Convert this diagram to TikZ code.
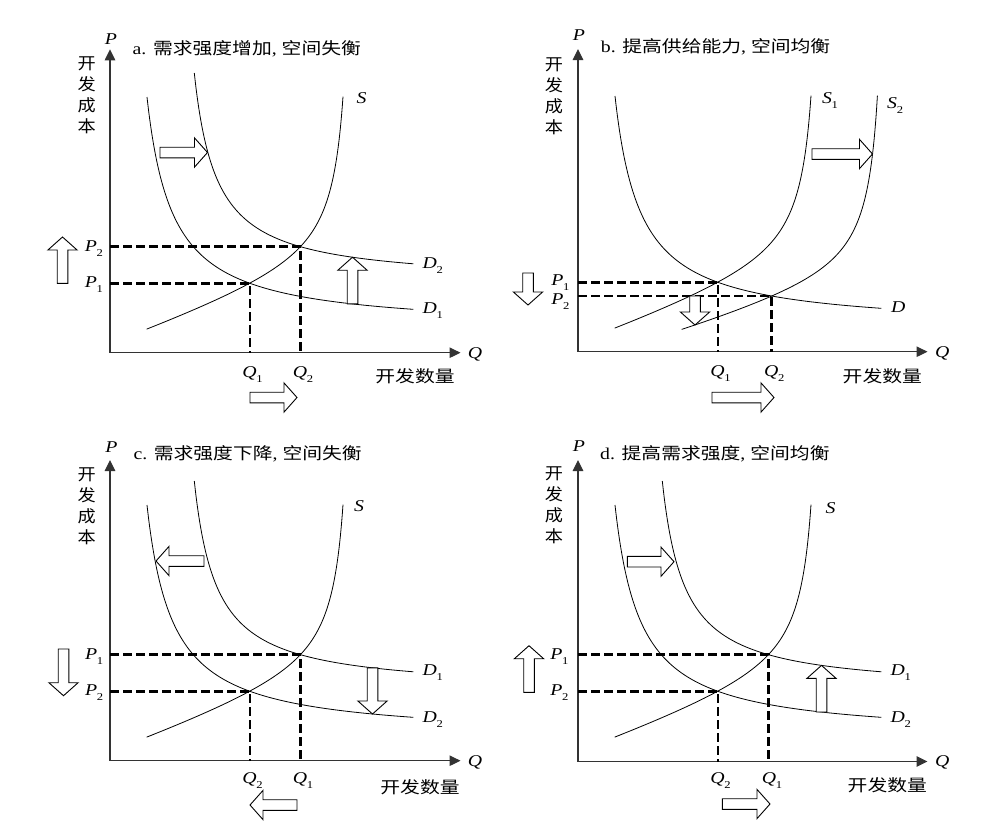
\documentclass[tikz,border=0pt]{standalone}
\usepackage{fontspec}
\usepackage{graphicx}
\setmainfont{Liberation Serif}
\newfontfamily\cjk{Noto Sans CJK SC}
\usetikzlibrary{arrows.meta,calc}
\newcommand\sx[1]{\scalebox{1.2}[1]{#1}}
\newcommand\sxx[1]{\scalebox{1.1}[1]{#1}}
\newcommand\vlab[1]{\sx{\textit{#1}}}
\newcommand\vsub[2]{\sx{\textit{#1}\kern-0.3pt\raisebox{-5pt}{\fontsize{10.5}{11}\selectfont #2}}}
\newcommand\blockarrow[2]{%
  \coordinate (bs) at #1;
  \coordinate (be) at #2;
  \coordinate (bb) at ($(be)!13pt!(bs)$);
  \draw[hollow] ($(bs)!5.3pt!90:(be)$) -- ($(bb)!5.3pt!90:(be)$) -- ($(bb)!14.6pt!90:(be)$) -- (be)
     -- ($(bb)!14.6pt!-90:(be)$) -- ($(bb)!5.3pt!-90:(be)$) -- ($(bs)!5.3pt!-90:(be)$) -- cycle;}
\def\Sone{390.55-0.348*\x-2165/(355.4-\x)}
\def\Stwo{401.3-0.284*\x-2110/(420.6-\x)}
\def\Dlo{329.8-5982.6/(\x-121.3)}
\def\Dhi{283.25-4699/(\x-171.95)}
\begin{document}
\begin{tikzpicture}[x=1pt,y=-1pt,
  axis/.style={line width=1.1pt,draw=black!80,>={Triangle[length=11pt,width=10.5pt]},<->},
  curve/.style={line width=0.8pt},
  guide/.style={line width=2.5pt,dash pattern=on 8.5pt off 4.5pt},
  hollow/.style={line width=0.9pt,fill=white,line join=miter},
  lab/.style={inner sep=0pt,font=\fontsize{16.5}{18}\selectfont},
  cjklab/.style={inner sep=0pt,font=\cjk\fontsize{16.5}{18}\selectfont},
  stack/.style={inner sep=0pt,align=center,font=\cjk\fontsize{16.5}{21}\selectfont}]
\useasboundingbox (0,0) rectangle (988,828);

% ---------- panel a ----------
\begin{scope}
\coordinate (aO) at (110,352.7);
\coordinate (aY) at (110,49.3);
\coordinate (aX) at (460.5,352.7);
\draw[axis] (aY) -- (aO) -- (aX);
\node[lab,anchor=base] (aP) at (111,44) {\vlab{P}};
\node[lab,anchor=base] (aQ) at (475,358.5) {\vlab{Q}};
\node[lab,anchor=west] (aT) at (132.5,49) {\sx{a. {\cjk 需求强度增加}, {\cjk 空间失衡}}};
\node[stack] (aV) at (86.7,95.5) {\sxx{开}\\\sxx{发}\\\sxx{成}\\\sxx{本}};
\node[cjklab] (aN) at (415,376.7) {\sx{开发数量}};
\draw[curve] plot[domain=146.7:343,samples=300] (\x,{\Sone});
\draw[curve] plot[domain=147:413.3,samples=300] (\x,{\Dlo});
\draw[curve] plot[domain=194.3:413.3,samples=300] (\x,{\Dhi});
\coordinate (aE1) at (250,283.3);
\coordinate (aE2) at (300.5,246.7);
\draw[guide] (aO |- aE1) -- (aE1) -- (aE1 |- aO);
\draw[guide] (aO |- aE2) -- (aE2) -- (aE2 |- aO);
\node[lab,anchor=base east] (aP1) at (103,287.6) {\vsub{P}{1}};
\node[lab,anchor=base east] (aP2) at (103,251) {\vsub{P}{2}};
\node[lab,anchor=base] (aQ1) at (252.5,377.5) {\vsub{Q}{1}};
\node[lab,anchor=base] (aQ2) at (303,377.5) {\vsub{Q}{2}};
\node[lab,anchor=base west] (aS) at (356.5,103.3) {\vlab{S}};
\node[lab,anchor=base west] (aD2) at (422.5,268.3) {\vsub{D}{2}};
\node[lab,anchor=base west] (aD1) at (422.5,313.3) {\vsub{D}{1}};
\blockarrow{(160,152.5)}{(207.5,152.5)}
\blockarrow{(62.5,283.3)}{(62.5,237)}
\blockarrow{(352.5,303.9)}{(352.5,257.2)}
\blockarrow{(250,397.5)}{(297,397.5)}
\end{scope}

% ---------- panel b ----------
\begin{scope}[shift={(468,-1)}]
\coordinate (bO) at (110,352.7);
\coordinate (bY) at (110,50);
\coordinate (bX) at (459.5,352.7);
\draw[axis] (bY) -- (bO) -- (bX);
\node[lab,anchor=base] (bP) at (111,41.5) {\vlab{P}};
\node[lab,anchor=base] (bQ) at (474.3,358) {\vlab{Q}};
\node[lab,anchor=west] (bT) at (132.7,47.7) {\sx{b. {\cjk 提高供给能力}, {\cjk 空间均衡}}};
\node[stack] (bV) at (86,97) {\sxx{开}\\\sxx{发}\\\sxx{成}\\\sxx{本}};
\node[cjklab] (bN) at (414.3,377.7) {\sx{开发数量}};
\draw[curve] plot[domain=146.7:343,samples=300] (\x,{\Sone});
\draw[curve] plot[domain=213.7:409.4,samples=300] (\x,{\Stwo});
\draw[curve] plot[domain=147:413.3,samples=300] (\x,{\Dlo});
\coordinate (bE1) at (250,283.3);
\coordinate (bE2) at (303.7,297);
\draw[guide] (bO |- bE1) -- (bE1) -- (bE1 |- bO);
\draw[guide] (bO |- bE2) -- (bE2) -- (bE2 |- bO);
\node[lab,anchor=base east] (bP1) at (101.5,286.5) {\vsub{P}{1}};
\node[lab,anchor=base east] (bP2) at (101.5,305.5) {\vsub{P}{2}};
\node[lab,anchor=base] (bQ1) at (252.5,377) {\vsub{Q}{1}};
\node[lab,anchor=base] (bQ2) at (306.2,377) {\vsub{Q}{2}};
\node[lab,anchor=base west] (bS1) at (354,104.3) {\vsub{S}{1}};
\node[lab,anchor=base west] (bS2) at (419,109.3) {\vsub{S}{2}};
\node[lab,anchor=base west] (bD) at (423,313) {\vlab{D}};
\blockarrow{(344,155)}{(404.5,155)}
\blockarrow{(60,274)}{(60,306)}
\blockarrow{(227,297)}{(227,326)}
\blockarrow{(244,398.5)}{(306,398.5)}
\end{scope}

% ---------- panel c ----------
\begin{scope}[shift={(0,408)}]
\coordinate (cO) at (110,352.7);
\coordinate (cY) at (110,52);
\coordinate (cX) at (460.5,352.7);
\draw[axis] (cY) -- (cO) -- (cX);
\node[lab,anchor=base] (cP) at (111.3,44.3) {\vlab{P}};
\node[lab,anchor=base] (cQ) at (475,358.6) {\vlab{Q}};
\node[lab,anchor=west] (cT) at (133.3,46) {\sx{c. {\cjk 需求强度下降}, {\cjk 空间失衡}}};
\node[stack] (cV) at (86.7,98) {\sxx{开}\\\sxx{发}\\\sxx{成}\\\sxx{本}};
\node[cjklab] (cN) at (420,379.3) {\sx{开发数量}};
\draw[curve] plot[domain=146.7:343,samples=300] (\x,{\Sone});
\draw[curve] plot[domain=147:413.3,samples=300] (\x,{\Dlo});
\draw[curve] plot[domain=194.3:413.3,samples=300] (\x,{\Dhi});
\coordinate (cE1) at (300.5,246.7);
\coordinate (cE2) at (250,283.3);
\draw[guide] (cO |- cE1) -- (cE1) -- (cE1 |- cO);
\draw[guide] (cO |- cE2) -- (cE2) -- (cE2 |- cO);
\node[lab,anchor=base east] (cP1) at (103.3,251) {\vsub{P}{1}};
\node[lab,anchor=base east] (cP2) at (103.3,287.6) {\vsub{P}{2}};
\node[lab,anchor=base] (cQ1) at (303,375.5) {\vsub{Q}{1}};
\node[lab,anchor=base] (cQ2) at (252.5,375.5) {\vsub{Q}{2}};
\node[lab,anchor=base west] (cS) at (354,103) {\vlab{S}};
\node[lab,anchor=base west] (cD1) at (422.5,267.7) {\vsub{D}{1}};
\node[lab,anchor=base west] (cD2) at (422.5,314.3) {\vsub{D}{2}};
\blockarrow{(204,153)}{(156,153)}
\blockarrow{(63.5,241)}{(63.5,287.7)}
\blockarrow{(372.5,259.8)}{(372.5,306)}
\blockarrow{(297,397)}{(250,397)}
\end{scope}

% ---------- panel d ----------
\begin{scope}[shift={(468,408)}]
\coordinate (dO) at (110,353.5);
\coordinate (dY) at (110,52);
\coordinate (dX) at (459.5,353.5);
\draw[axis] (dY) -- (dO) -- (dX);
\node[lab,anchor=base] (dP) at (111,43.3) {\vlab{P}};
\node[lab,anchor=base] (dQ) at (474.3,358.8) {\vlab{Q}};
\node[lab,anchor=west] (dT) at (132,46) {\sx{d. {\cjk 提高需求强度}, {\cjk 空间均衡}}};
\node[stack] (dV) at (86,97.7) {\sxx{开}\\\sxx{发}\\\sxx{成}\\\sxx{本}};
\node[cjklab] (dN) at (419.3,377.7) {\sx{开发数量}};
\draw[curve] plot[domain=146.7:343,samples=300] (\x,{\Sone});
\draw[curve] plot[domain=147:413.3,samples=300] (\x,{\Dlo});
\draw[curve] plot[domain=194.3:413.3,samples=300] (\x,{\Dhi});
\coordinate (dE1) at (300.5,246.7);
\coordinate (dE2) at (250,283.3);
\draw[guide] (dO |- dE1) -- (dE1) -- (dE1 |- dO);
\draw[guide] (dO |- dE2) -- (dE2) -- (dE2 |- dO);
\node[lab,anchor=base east] (dP1) at (100.5,251) {\vsub{P}{1}};
\node[lab,anchor=base east] (dP2) at (100.5,287.6) {\vsub{P}{2}};
\node[lab,anchor=base] (dQ1) at (304,375.3) {\vsub{Q}{1}};
\node[lab,anchor=base] (dQ2) at (252.5,375.3) {\vsub{Q}{2}};
\node[lab,anchor=base west] (dS) at (357.5,105) {\vlab{S}};
\node[lab,anchor=base west] (dD1) at (422.5,267.7) {\vsub{D}{1}};
\node[lab,anchor=base west] (dD2) at (422.5,314.3) {\vsub{D}{2}};
\blockarrow{(159.3,153.7)}{(206,153.7)}
\blockarrow{(61,284.3)}{(61,237.7)}
\blockarrow{(353.5,304)}{(353.5,257.4)}
\blockarrow{(254.3,396)}{(302,396)}
\end{scope}
\end{tikzpicture}
\end{document}
